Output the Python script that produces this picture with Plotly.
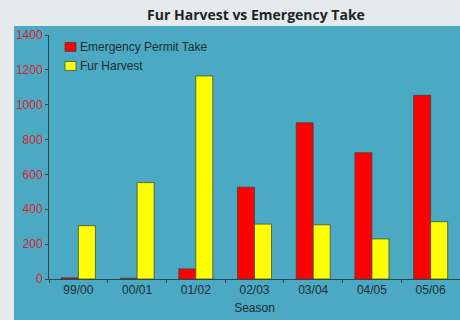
import plotly.graph_objects as go

seasons = ["99/00", "00/01", "01/02", "02/03", "03/04", "04/05", "05/06"]
emergency_take = [7, 4, 58, 527, 896, 725, 1054]
fur_harvest = [306, 553, 1165, 315, 311, 230, 329]
y_ticks = [0, 200, 400, 600, 800, 1000, 1200, 1400]

series = [
    ("Emergency Permit Take", emergency_take, "#ff0000"),
    ("Fur Harvest", fur_harvest, "#ffff00"),
]

W, H = 460, 320
M_L, M_R, M_T, M_B = 49, 0, 35, 40.5
PANEL_X, PANEL_Y = 14, 26

teal = "#4ba9c4"
edge = "rgba(60,70,60,0.75)"
dark = "#1d2c33"
axis_col = "#2c4651"

pw = W - M_L - M_R
ph = H - M_T - M_B


def px_x(x):
    """Pixel column -> plot-area paper fraction."""
    return (x - M_L) / pw


def px_y(y):
    """Pixel row (from top) -> plot-area paper fraction."""
    return (H - M_B - y) / ph


fig = go.Figure()
for name, vals, col in series:
    fig.add_trace(go.Bar(
        x=seasons, y=vals, name=name, showlegend=False,
        marker=dict(color=col, line=dict(color=edge, width=1)),
    ))

# compact legend in the top-left corner of the plot
shapes = [dict(
    type="rect", xref="paper", yref="paper", layer="below",
    x0=px_x(PANEL_X), x1=1.01,
    y0=-M_B / ph - 0.01, y1=px_y(PANEL_Y),
    fillcolor=teal, line=dict(width=0),
)]
annotations = []
for i, (name, vals, col) in enumerate(series):
    cy = 47 + i * 19
    shapes.append(dict(
        type="rect", xref="paper", yref="paper",
        x0=px_x(65), x1=px_x(76), y0=px_y(cy + 4.5), y1=px_y(cy - 4.5),
        fillcolor=col, line=dict(color=edge, width=1),
    ))
    annotations.append(dict(
        text=name, xref="paper", yref="paper",
        x=px_x(78), y=px_y(cy), xanchor="left", yanchor="middle",
        showarrow=False,
        font=dict(family="Liberation Sans", size=12, color=dark),
    ))

fig.update_layout(
    width=W, height=H,
    margin=dict(l=M_L, r=M_R, t=M_T, b=M_B, pad=0),
    paper_bgcolor="#e5eaed",
    plot_bgcolor="rgba(0,0,0,0)",
    barmode="group",
    bargap=0.42,
    bargroupgap=0,
    showlegend=False,
    title=dict(
        text="<b>Fur Harvest vs Emergency Take</b>",
        x=px_x(256), xanchor="center", xref="paper",
        y=1 - 15 / H, yanchor="middle", yref="container",
        font=dict(family="Open Sans", size=14, color="#1e2326"),
    ),
    font=dict(family="Liberation Sans", size=12, color=dark),
    shapes=shapes,
    annotations=annotations,
)

fig.update_xaxes(
    type="category",
    showline=True, linecolor=axis_col, linewidth=1,
    ticks="outside", ticklen=3, tickcolor=axis_col, tickson="boundaries",
    showgrid=False, zeroline=False,
    tickfont=dict(family="Liberation Sans", size=12, color=dark),
    title=dict(text="Season", standoff=7,
               font=dict(family="Liberation Sans", size=12, color=dark)),
)
fig.update_yaxes(
    range=[0, 1400], tickvals=y_ticks,
    showline=True, linecolor=axis_col, linewidth=1,
    ticks="outside", ticklen=3, tickcolor=axis_col,
    showgrid=False, zeroline=False,
    tickfont=dict(family="Liberation Sans", size=12, color="#d8232a"),
)

fig.write_html("out.html")
